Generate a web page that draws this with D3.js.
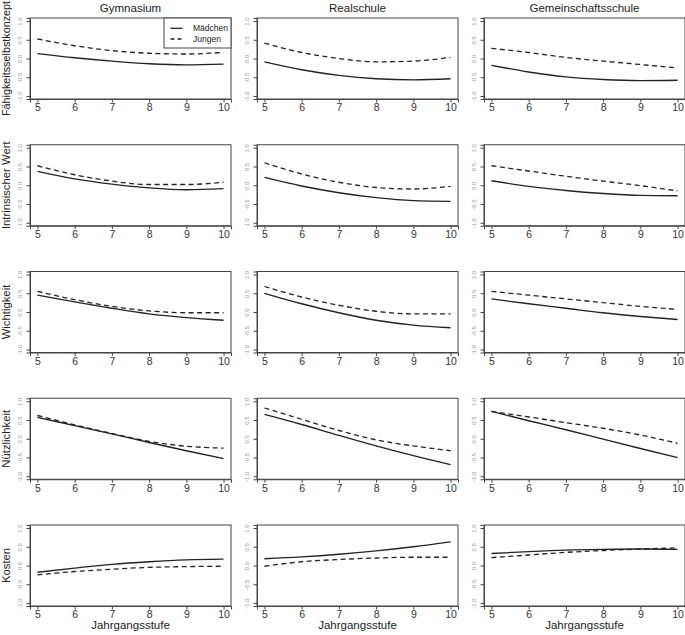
<!DOCTYPE html>
<html><head><meta charset="utf-8">
<script src="https://cdn.jsdelivr.net/npm/d3@7"></script>
<style>body{margin:0;background:#fff}svg{display:block}</style>
</head><body>
<script>
const schools = ["Gymnasium", "Realschule", "Gemeinschaftsschule"];
const constructs = ["Fähigkeitsselbstkonzept", "Intrinsischer Wert", "Wichtigkeit", "Nützlichkeit", "Kosten"];
const grades = [5, 6, 7, 8, 9, 10];
const xTicks = [5, 6, 7, 8, 9, 10];
const yTicks = [-1, -0.5, 0, 0.5, 1];
const yTickLabels = ["-1.0", "-0.5", "0.0", "0.5", "1.0"];
const seriesNames = ["Mädchen", "Jungen"];
const xTitle = "Jahrgangsstufe";

// values[construct][school] at grades 5..10
const maedchen = [
  [[0.13,0.02,-0.07,-0.14,-0.17,-0.15],[-0.09,-0.30,-0.45,-0.54,-0.57,-0.54],[-0.18,-0.36,-0.49,-0.56,-0.59,-0.58]],
  [[0.37,0.17,0.03,-0.07,-0.12,-0.09],[0.21,-0.02,-0.20,-0.33,-0.41,-0.43],[0.12,-0.03,-0.14,-0.22,-0.27,-0.28]],
  [[0.45,0.27,0.10,-0.05,-0.15,-0.22],[0.50,0.22,-0.02,-0.22,-0.35,-0.42],[0.35,0.22,0.10,-0.02,-0.12,-0.20]],
  [[0.57,0.35,0.13,-0.10,-0.32,-0.53],[0.65,0.38,0.09,-0.19,-0.45,-0.69],[0.73,0.48,0.24,-0.01,-0.26,-0.50]],
  [[-0.18,-0.07,0.03,0.10,0.15,0.17],[0.18,0.23,0.30,0.39,0.50,0.63],[0.32,0.37,0.41,0.43,0.44,0.43]]
];
const jungen = [
  [[0.52,0.34,0.21,0.14,0.12,0.16],[0.41,0.16,0.00,-0.09,-0.07,0.03],[0.27,0.16,0.03,-0.07,-0.16,-0.25]],
  [[0.52,0.28,0.11,0.02,0.02,0.08],[0.60,0.30,0.08,-0.06,-0.10,-0.03],[0.52,0.38,0.24,0.11,-0.01,-0.15]],
  [[0.55,0.33,0.15,0.03,-0.02,-0.02],[0.68,0.40,0.18,0.02,-0.05,-0.05],[0.55,0.45,0.35,0.25,0.15,0.07]],
  [[0.62,0.37,0.14,-0.07,-0.20,-0.25],[0.82,0.52,0.22,-0.03,-0.19,-0.32],[0.73,0.58,0.43,0.28,0.10,-0.12]],
  [[-0.25,-0.16,-0.10,-0.05,-0.03,-0.02],[-0.02,0.10,0.16,0.20,0.22,0.22],[0.21,0.28,0.35,0.40,0.44,0.47]]
];

const W = 685, H = 635;
const L0 = 30, colPitch = 227, PW = 201;
const T0 = 18, rowPitch = 126.75, PH = 81;
const font = "Liberation Sans, Arial, Helvetica, sans-serif";

const svg = d3.select("body").append("svg").attr("width", W).attr("height", H)
  .style("font-family", font);

constructs.forEach((cName, r) => {
  schools.forEach((sName, c) => {
    const left = L0 + c * colPitch, top = T0 + r * rowPitch;
    const x = d3.scaleLinear().domain([4.8, 10.2]).range([left, left + PW]);
    const y = d3.scaleLinear().domain([-1.08, 1.08]).range([top + PH, top]);
    const g = svg.append("g");

    const xa = g.append("g").attr("transform", `translate(0,${top + PH})`)
      .call(d3.axisBottom(x).tickValues(xTicks).tickFormat(d3.format("d")).tickSize(3.5).tickPadding(1.5));
    xa.select(".domain").attr("stroke", "#444");
    xa.selectAll(".tick line").attr("stroke", "#444");
    xa.selectAll("text").attr("font-size", 10.5).attr("fill", "#333").attr("font-family", font);

    const ya = g.append("g").attr("transform", `translate(${left},0)`)
      .call(d3.axisLeft(y).tickValues(yTicks).tickFormat((d, i) => yTickLabels[i]).tickSize(3.5).tickPadding(0));
    ya.select(".domain").attr("stroke", "#444");
    ya.selectAll(".tick line").attr("stroke", "#444");
    ya.selectAll("text").attr("font-size", 6).attr("fill", "#999").attr("font-family", font)
      .attr("text-anchor", "middle").attr("dy", null).attr("x", null)
      .attr("transform", "translate(-8,0) rotate(-90)");

    g.append("rect").attr("x", left).attr("y", top).attr("width", PW).attr("height", PH)
      .attr("fill", "none").attr("stroke", "#444").attr("stroke-width", 1);

    const line = d3.line().x((d, i) => x(grades[i])).y(d => y(d)).curve(d3.curveMonotoneX);
    g.append("path").attr("d", line(maedchen[r][c])).attr("fill", "none")
      .attr("stroke", "#222").attr("stroke-width", 1.3);
    g.append("path").attr("d", line(jungen[r][c])).attr("fill", "none")
      .attr("stroke", "#222").attr("stroke-width", 1.3).attr("stroke-dasharray", "5,3.5");

    if (r === 0) {
      svg.append("text").attr("x", left + PW / 2).attr("y", 11.5).attr("text-anchor", "middle")
        .attr("font-size", 11.5).attr("fill", "#222").text(sName);
    }
    if (r === constructs.length - 1) {
      svg.append("text").attr("x", left + PW / 2).attr("y", 629).attr("text-anchor", "middle")
        .attr("font-size", 11.5).attr("fill", "#222").text(xTitle);
    }
    if (c === 0) {
      svg.append("text").attr("transform", `translate(10,${top + PH / 2}) rotate(-90)`)
        .attr("text-anchor", "middle").attr("font-size", cName.length > 20 ? 10.8 : 11.3)
        .attr("fill", "#222").text(cName);
    }
    if (r === 0 && c === 0) {
      const lx = 164, ly = top, lw = left + PW - 164, lh = 30;
      const lg = svg.append("g");
      lg.append("rect").attr("x", lx).attr("y", ly).attr("width", lw).attr("height", lh)
        .attr("fill", "#fff").attr("stroke", "#444").attr("stroke-width", 1);
      seriesNames.forEach((nm, i) => {
        const yy = ly + 10.3 + i * 10.7;
        lg.append("line").attr("x1", lx + 6.5).attr("x2", lx + 18.5).attr("y1", yy).attr("y2", yy)
          .attr("stroke", "#222").attr("stroke-width", 1.3)
          .attr("stroke-dasharray", i === 1 ? "4,3" : null);
        lg.append("text").attr("x", lx + 29).attr("y", yy + 3).attr("font-size", 8.5)
          .attr("fill", "#222").text(nm);
      });
    }
  });
});
</script>
</body></html>
